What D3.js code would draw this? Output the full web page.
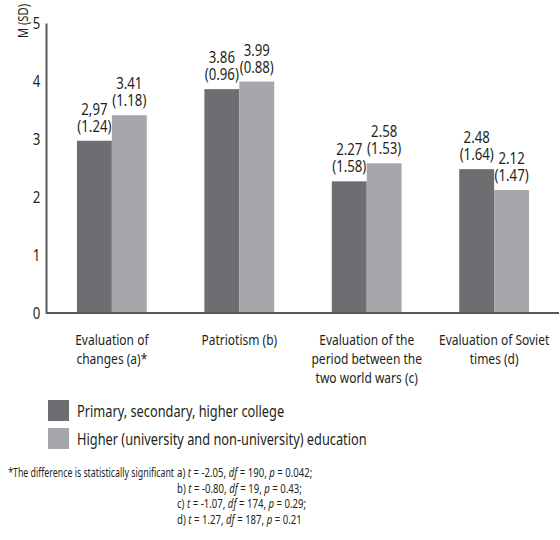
<!DOCTYPE html>
<html>
<head>
<meta charset="utf-8">
<script src="https://cdn.jsdelivr.net/npm/d3@7"></script>
<style>
  html, body { margin: 0; padding: 0; background: #fff; }
  svg text { font-family: "Noto Sans", "DejaVu Sans", sans-serif; fill: #231f20; }
</style>
</head>
<body>
<svg id="chart" width="560" height="540"></svg>
<script>
// Mean (SD) attitudes by education level
const categories = [
  ["Evaluation of", "changes (a)*"],
  ["Patriotism (b)"],
  ["Evaluation of the", "period between the", "two world wars (c)"],
  ["Evaluation of Soviet", "times (d)"]
];
const seriesNames = [
  "Primary, secondary, higher college",
  "Higher (university and non-university) education"
];
// mean labels as printed; bar heights are parsed from them
const primaryMeans = ["2,97", "3.86", "2.27", "2.48"];
const primarySD    = ["1.24", "0.96", "1.58", "1.64"];
const higherMeans  = ["3.41", "3.99", "2.58", "2.12"];
const higherSD     = ["1.18", "0.88", "1.53", "1.47"];
const yTicks = [0, 1, 2, 3, 4, 5];
const yTitle = "M (SD)";
const footnote = [
  { letter: "a)", t: "-2.05", df: "190", p: "0.042;" },
  { letter: "b)", t: "-0.80", df: "19", p: "0.43;" },
  { letter: "c)", t: "-1.07", df: "174", p: "0.29;" },
  { letter: "d)", t: "1.27", df: "187", p: "0.21" }
];
const footnotePrefix = "*The difference is statistically significant";

const colors = ["#6d6e72", "#a6a7ab"];
const axisColor = "#58585a";
const narrow = 0.8; // horizontal squeeze giving a condensed face

const toNum = s => +s.replace(",", ".");
const rows = categories.map((c, i) => ({
  cat: i,
  bars: [
    { key: 0, value: toNum(primaryMeans[i]), top: primaryMeans[i], sd: "(" + primarySD[i] + ")" },
    { key: 1, value: toNum(higherMeans[i]), top: higherMeans[i], sd: "(" + higherSD[i] + ")" }
  ]
}));

const svg = d3.select("#chart");
const x0 = 47, x1 = 559, yBase = 313, yTop = 23;

const x = d3.scaleBand().domain(d3.range(categories.length))
  .range([x0, x1]).paddingInner(0.452).paddingOuter(0.235);
const xs = d3.scaleBand().domain([0, 1]).range([0, x.bandwidth()]);
const y = d3.scaleLinear().domain([0, 5]).range([yBase, yTop]);

// y axis: labels only, plus the vertical line
const yAxis = svg.append("g")
  .attr("transform", `translate(${x0 - 1},0)`)
  .call(d3.axisLeft(y).tickValues(yTicks).tickFormat(d3.format("d")).tickSize(0).tickPadding(7));
yAxis.select(".domain").attr("stroke", axisColor).attr("stroke-width", 2);
yAxis.selectAll("text")
  .attr("font-size", 16.5).attr("fill", "#231f20")
  .attr("transform", `scale(${narrow},1)`)
  .style("font-family", '"Noto Sans", "DejaVu Sans", sans-serif');

svg.append("text")
  .attr("transform", `translate(28,21) rotate(-90) scale(${narrow},1)`)
  .attr("text-anchor", "middle")
  .attr("font-size", 14)
  .text(yTitle);

// bars
const groups = svg.append("g").selectAll("g").data(rows).join("g")
  .attr("transform", d => `translate(${x(d.cat)},0)`);

groups.selectAll("rect").data(d => d.bars).join("rect")
  .attr("x", b => xs(b.key))
  .attr("width", xs.bandwidth())
  .attr("y", b => y(b.value))
  .attr("height", b => yBase - y(b.value))
  .attr("fill", b => colors[b.key]);

// value labels: mean above, SD below
const lab = groups.selectAll("text.val").data(d => d.bars).join("text")
  .attr("class", "val")
  .attr("text-anchor", "middle")
  .attr("font-size", 16.5)
  .attr("transform", b => `translate(${xs(b.key) + xs.bandwidth() / 2},${y(b.value) - 9}) scale(${narrow},1)`);
lab.append("tspan").attr("x", 0).attr("y", -17).text(b => b.top);
lab.append("tspan").attr("x", 0).attr("y", 0).text(b => b.sd);

// baseline
svg.append("line")
  .attr("x1", x0 - 1).attr("x2", x1)
  .attr("y1", yBase).attr("y2", yBase)
  .attr("stroke", axisColor).attr("stroke-width", 2);

// category labels
const catText = svg.append("g").selectAll("text").data(categories).join("text")
  .attr("text-anchor", "middle")
  .attr("font-size", 15)
  .attr("transform", (d, i) => `translate(${x(i) + x.bandwidth() / 2},345) scale(${narrow},1)`);
catText.selectAll("tspan").data(d => d).join("tspan")
  .attr("x", 0).attr("y", (d, i) => i * 19).text(d => d);

// legend
const leg = svg.append("g").selectAll("g").data(seriesNames).join("g")
  .attr("transform", (d, i) => `translate(48,${400 + i * 28})`);
leg.append("rect").attr("width", 21).attr("height", 21).attr("fill", (d, i) => colors[i]);
leg.append("text")
  .attr("transform", `translate(29,16.5) scale(${narrow},1)`)
  .attr("font-size", 16).text(d => d);

// footnote with t-test results; the lead-in is squeezed to end just before the indent
const fnX = 177, fnY0 = 477, fnDy = 15.5, fnLeft = 8;
const prefix = svg.append("text")
  .attr("text-anchor", "end")
  .attr("font-size", 12)
  .text(footnotePrefix);
const prefixW = prefix.node().getComputedTextLength();
const prefixK = (fnX - 3 - fnLeft) / prefixW;
prefix.attr("transform", `translate(${fnX - 3},${fnY0}) scale(${prefixK},1)`);

footnote.forEach((f, i) => {
  const t = svg.append("text")
    .attr("transform", `translate(${fnX},${fnY0 + i * fnDy}) scale(${narrow},1)`)
    .attr("font-size", 12);
  t.append("tspan").text(f.letter + " ");
  t.append("tspan").attr("font-style", "italic").text("t");
  t.append("tspan").text(" = " + f.t + ", ");
  t.append("tspan").attr("font-style", "italic").text("df");
  t.append("tspan").text(" = " + f.df + ", ");
  t.append("tspan").attr("font-style", "italic").text("p");
  t.append("tspan").text(" = " + f.p);
});
</script>
</body>
</html>
